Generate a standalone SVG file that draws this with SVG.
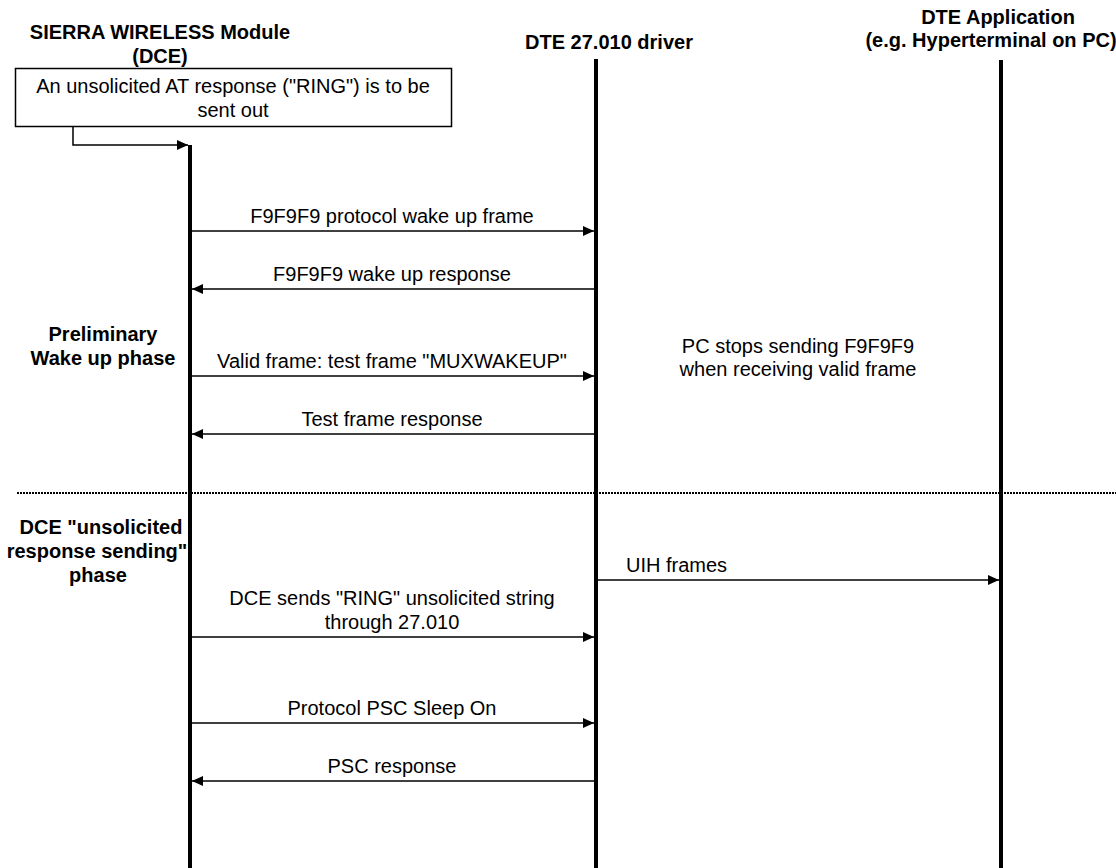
<svg xmlns="http://www.w3.org/2000/svg" width="1116" height="868" viewBox="0 0 1116 868">
<style>
.t{font-family:"Liberation Sans",Arial,sans-serif;font-size:20px;fill:#000;text-anchor:middle}
.b{font-weight:bold}
.life{stroke:#000;stroke-width:4;fill:none}
.msg{stroke:#000;stroke-width:1.5;fill:none;marker-end:url(#ah)}
</style>
<defs>
<marker id="ah" markerWidth="12" markerHeight="10" refX="11" refY="5" orient="auto" markerUnits="userSpaceOnUse">
<path d="M0,0 L11,5 L0,10 Z" fill="#000"/>
</marker>
</defs>
<rect width="1116" height="868" fill="#fff"/>
<g id="dce">
<text class="t b" x="160" y="39">SIERRA WIRELESS Module</text>
<text class="t b" x="160" y="63">(DCE)</text>
<line class="life" x1="190" y1="145" x2="190" y2="868"/>
</g>
<g id="driver">
<text class="t b" x="609" y="49">DTE 27.010 driver</text>
<line class="life" x1="596" y1="59" x2="596" y2="868"/>
</g>
<g id="app">
<text class="t b" x="998" y="24">DTE Application</text>
<text class="t b" x="991" y="47">(e.g. Hyperterminal on PC)</text>
<line class="life" x1="1001" y1="60" x2="1001" y2="868"/>
</g>
<g id="event">
<rect x="15.5" y="68.5" width="436" height="58" fill="#fff" stroke="#000" stroke-width="1.5"/>
<text class="t" x="233" y="93">An unsolicited AT response ("RING") is to be</text>
<text class="t" x="233" y="117">sent out</text>
</g>
<g id="phase1">
<text class="t b" x="103" y="341">Preliminary</text>
<text class="t b" x="103" y="365">Wake up phase</text>
</g>
<g id="phase2">
<text class="t b" x="101" y="534">DCE "unsolicited</text>
<text class="t b" x="97" y="558">response sending"</text>
<text class="t b" x="98" y="582">phase</text>
</g>
<g id="note">
<text class="t" x="798" y="353">PC stops sending F9F9F9</text>
<text class="t" x="798" y="376">when receiving valid frame</text>
</g>
<g id="connectors">
<path class="msg" d="M73,127 V145 H188"/>
<line class="msg" x1="192" y1="231" x2="594" y2="231"/>
<text class="t" x="392" y="223">F9F9F9 protocol wake up frame</text>
<line class="msg" x1="594" y1="289" x2="192" y2="289"/>
<text class="t" x="392" y="281">F9F9F9 wake up response</text>
<line class="msg" x1="192" y1="376" x2="594" y2="376"/>
<text class="t" x="392" y="368">Valid frame: test frame "MUXWAKEUP"</text>
<line class="msg" x1="594" y1="434" x2="192" y2="434"/>
<text class="t" x="392" y="426">Test frame response</text>
<line x1="17" y1="493" x2="1116" y2="493" stroke="#000" stroke-width="2" stroke-dasharray="2,1"/>
<line class="msg" x1="598" y1="580" x2="999" y2="580"/>
<text class="t" x="626" y="572" style="text-anchor:start">UIH frames</text>
<line class="msg" x1="192" y1="637" x2="594" y2="637"/>
<text class="t" x="392" y="605">DCE sends "RING" unsolicited string</text>
<text class="t" x="392" y="629">through 27.010</text>
<line class="msg" x1="192" y1="723" x2="594" y2="723"/>
<text class="t" x="392" y="715">Protocol PSC Sleep On</text>
<line class="msg" x1="594" y1="781" x2="192" y2="781"/>
<text class="t" x="392" y="773">PSC response</text>
</g>
</svg>
